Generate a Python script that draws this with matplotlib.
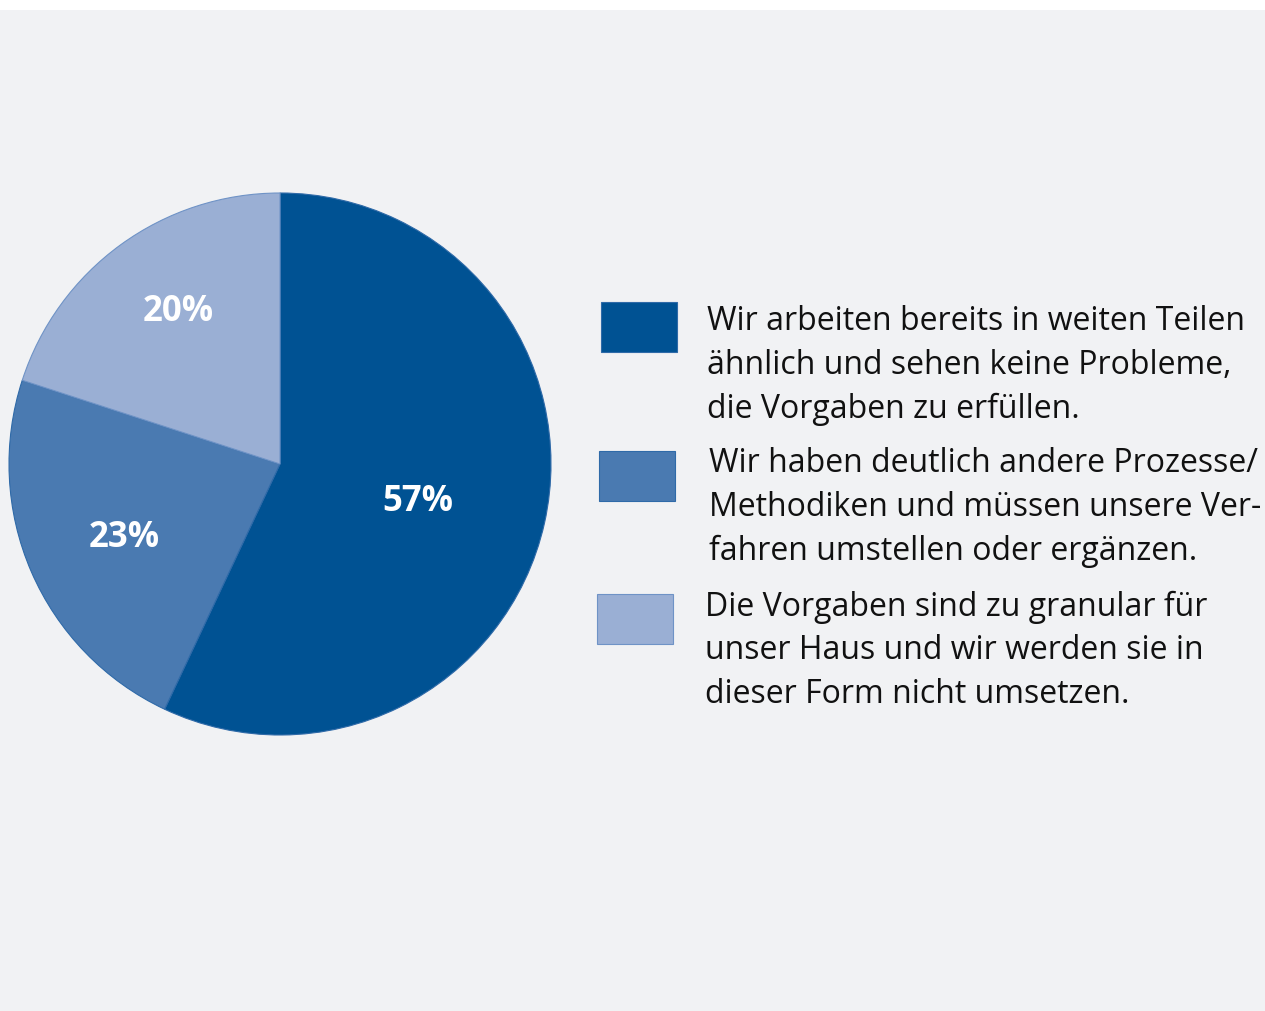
import matplotlib
matplotlib.use("Agg")
import matplotlib.pyplot as plt
from matplotlib.patches import Rectangle
import numpy as np

categories = [
    "Wir arbeiten bereits in weiten Teilen\nähnlich und sehen keine Probleme,\ndie Vorgaben zu erfüllen.",
    "Wir haben deutlich andere Prozesse/\nMethodiken und müssen unsere Ver-\nfahren umstellen oder ergänzen.",
    "Die Vorgaben sind zu granular für\nunser Haus und wir werden sie in\ndieser Form nicht umsetzen.",
]
values = [57, 23, 20]
labels = ["57%", "23%", "20%"]
colors = ["#005293", "#4a7ab1", "#9aafd4"]
edge_colors = ["#2f6aa8", "#2f6aa8", "#6f93c6"]

W, H = 1265, 1012
fig = plt.figure(figsize=(W / 100, H / 100), dpi=100)
fig.patch.set_facecolor("white")
ax = fig.add_axes([0, 0, 1, 1])
ax.set_xlim(0, W)
ax.set_ylim(0, H)
ax.set_aspect("equal")
ax.axis("off")

FONT = "Open Sans"

# background band
ax.add_patch(Rectangle((0, 0), W, H - 11, facecolor="#f1f2f4", edgecolor="none", zorder=0))

cx, cy, r = 280, H - 465, 271
wedges, _ = ax.pie(values, center=(cx, cy), radius=r, startangle=90, counterclock=False,
                   colors=colors, wedgeprops=dict(linewidth=0.8, edgecolor="#2f6aa8"))
for w, ec in zip(wedges, edge_colors):
    w.set_edgecolor(ec)
    w.set_zorder(2)

# percent labels: radial distance (fraction of radius) and angle offset from wedge middle
dists = [0.527, 0.636, 0.679]
ang_off = [-2.4, 1.7, -2.3]
for w, lab, d, da in zip(wedges, labels, dists, ang_off):
    ang = np.deg2rad((w.theta1 + w.theta2) / 2 + da)
    ax.text(cx + d * r * np.cos(ang), cy + d * r * np.sin(ang), lab, color="white",
            fontsize=25, fontweight="bold", family=FONT, ha="center", va="center", zorder=3)

ax.set_xlim(0, W)
ax.set_ylim(0, H)

# legend (text anchored at baseline of the last line)
box_x = [601, 599, 597]
box_top = [303, 452, 595]
text_x = [707, 709, 705]
text_base = [418, 560, 703]
for i, cat in enumerate(categories):
    ax.add_patch(Rectangle((box_x[i], H - box_top[i] - 50), 76, 50, facecolor=colors[i],
                           edgecolor=edge_colors[i], linewidth=0.8, zorder=2))
    ax.text(text_x[i], H - text_base[i], cat, fontsize=23, family=FONT, color="#111111",
            ha="left", va="baseline", linespacing=1.43, zorder=3)

fig.savefig("out.png", dpi=100, facecolor=fig.get_facecolor())
